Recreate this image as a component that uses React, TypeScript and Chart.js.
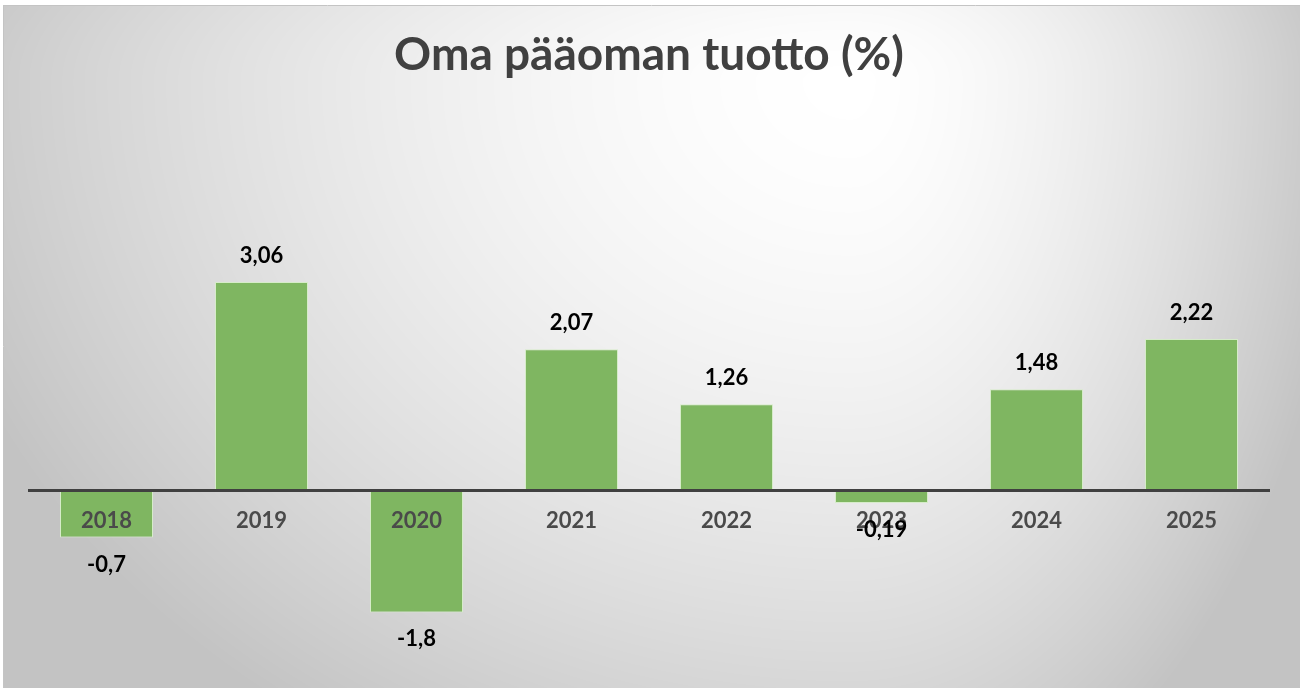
import React, { useEffect, useRef } from "react";
import { Chart, registerables } from "chart.js";

Chart.register(...registerables);

const chartTitle = "Oma pääoman tuotto (%)";
const categories = ["2018", "2019", "2020", "2021", "2022", "2023", "2024", "2025"];
const roeValues = [-0.7, 3.06, -1.8, 2.07, 1.26, -0.19, 1.48, 2.22];
const yMin = -2.5;
const yMax = 5;

const FONT = "Lato, 'Open Sans', 'DejaVu Sans', sans-serif";

let bgCache: ImageData | null = null;

function getBackground(ctx: CanvasRenderingContext2D, w: number, h: number, x0: number, y0: number) {
  if (bgCache && bgCache.width === w && bgCache.height === h) return bgCache;
  const img = ctx.createImageData(w, h);
  const cx = 850 - x0;
  const cy = 80 - y0;
  for (let y = 0; y < h; y++) {
    const dy = y - cy;
    const ry = dy < 0 ? 300 : 780;
    const ny = dy / ry;
    for (let x = 0; x < w; x++) {
      const dx = x - cx;
      const rx = dx < 0 ? 950 : 500;
      const nx = dx / rx;
      const t = Math.min(1, Math.sqrt(nx * nx + ny * ny));
      const v = Math.round(255 - 60 * Math.pow(t, 1.6));
      const i = (y * w + x) * 4;
      img.data[i] = v;
      img.data[i + 1] = v;
      img.data[i + 2] = v;
      img.data[i + 3] = 255;
    }
  }
  bgCache = img;
  return img;
}

const backgroundPlugin = {
  id: "bgPanel",
  beforeDraw(chart: any) {
    const ctx: CanvasRenderingContext2D = chart.ctx;
    const x0 = 4;
    const y0 = 6;
    const w = chart.width - x0;
    const h = chart.height - y0;
    ctx.save();
    ctx.fillStyle = "#ffffff";
    ctx.fillRect(0, 0, chart.width, chart.height);
    ctx.putImageData(getBackground(ctx, w, h, x0, y0), x0, y0);
    ctx.strokeStyle = "#c4c4c4";
    ctx.lineWidth = 1;
    ctx.beginPath();
    ctx.moveTo(3, 5.5);
    ctx.lineTo(chart.width, 5.5);
    ctx.moveTo(3.5, 5);
    ctx.lineTo(3.5, chart.height);
    ctx.stroke();
    ctx.restore();
  },
};

const valueLabelPlugin = {
  id: "valueLabels",
  afterDraw(chart: any) {
    const ctx: CanvasRenderingContext2D = chart.ctx;
    const meta = chart.getDatasetMeta(0);
    const data = chart.data.datasets[0].data as number[];
    ctx.save();
    ctx.font = `bold 22px ${FONT}`;
    ctx.fillStyle = "#000000";
    ctx.textAlign = "center";
    ctx.textBaseline = "middle";
    meta.data.forEach((bar: any, i: number) => {
      const v = data[i];
      const text = String(v).replace(".", ",");
      const y = v >= 0 ? bar.y - 26 : bar.y + 27;
      ctx.fillText(text, bar.x, y);
    });
    ctx.restore();
  },
};

export default function App() {
  const canvasRef = useRef<HTMLCanvasElement | null>(null);

  useEffect(() => {
    document.body.style.margin = "0";
    const canvas = canvasRef.current;
    if (!canvas) return;
    const chart = new Chart(canvas, {
      type: "bar",
      data: {
        labels: categories,
        datasets: [
          {
            label: chartTitle,
            data: roeValues,
            backgroundColor: "#7fb661",
            borderColor: "#d6ecc9",
            borderWidth: 1,
            barPercentage: 0.6,
            categoryPercentage: 1,
          },
        ],
      },
      options: {
        responsive: false,
        animation: false,
        devicePixelRatio: 1,
        layout: { padding: { left: 29, right: 31, top: 0, bottom: 28 } },
        plugins: {
          legend: { display: false },
          tooltip: { enabled: false },
          title: {
            display: true,
            text: chartTitle,
            color: "#404040",
            font: { family: FONT, size: 46, weight: "bold", lineHeight: 1.2 },
            padding: { top: 28, bottom: 66.8 },
          },
        },
        scales: {
          x: {
            position: { y: 0 } as any,
            z: 1,
            grid: { display: false, drawTicks: false },
            border: { display: true, color: "#404040", width: 3, z: 1 } as any,
            ticks: {
              z: 1,
              color: "#4a4a4a",
              padding: 18,
              font: { family: FONT, size: 22, weight: "bold" },
            },
          },
          y: {
            display: false,
            min: yMin,
            max: yMax,
          },
        },
      },
      plugins: [backgroundPlugin, valueLabelPlugin],
    });
    return () => chart.destroy();
  }, []);

  return (
    <div style={{ width: 1300, height: 688 }}>
      <canvas ref={canvasRef} width={1300} height={688} style={{ display: "block" }} />
    </div>
  );
}
